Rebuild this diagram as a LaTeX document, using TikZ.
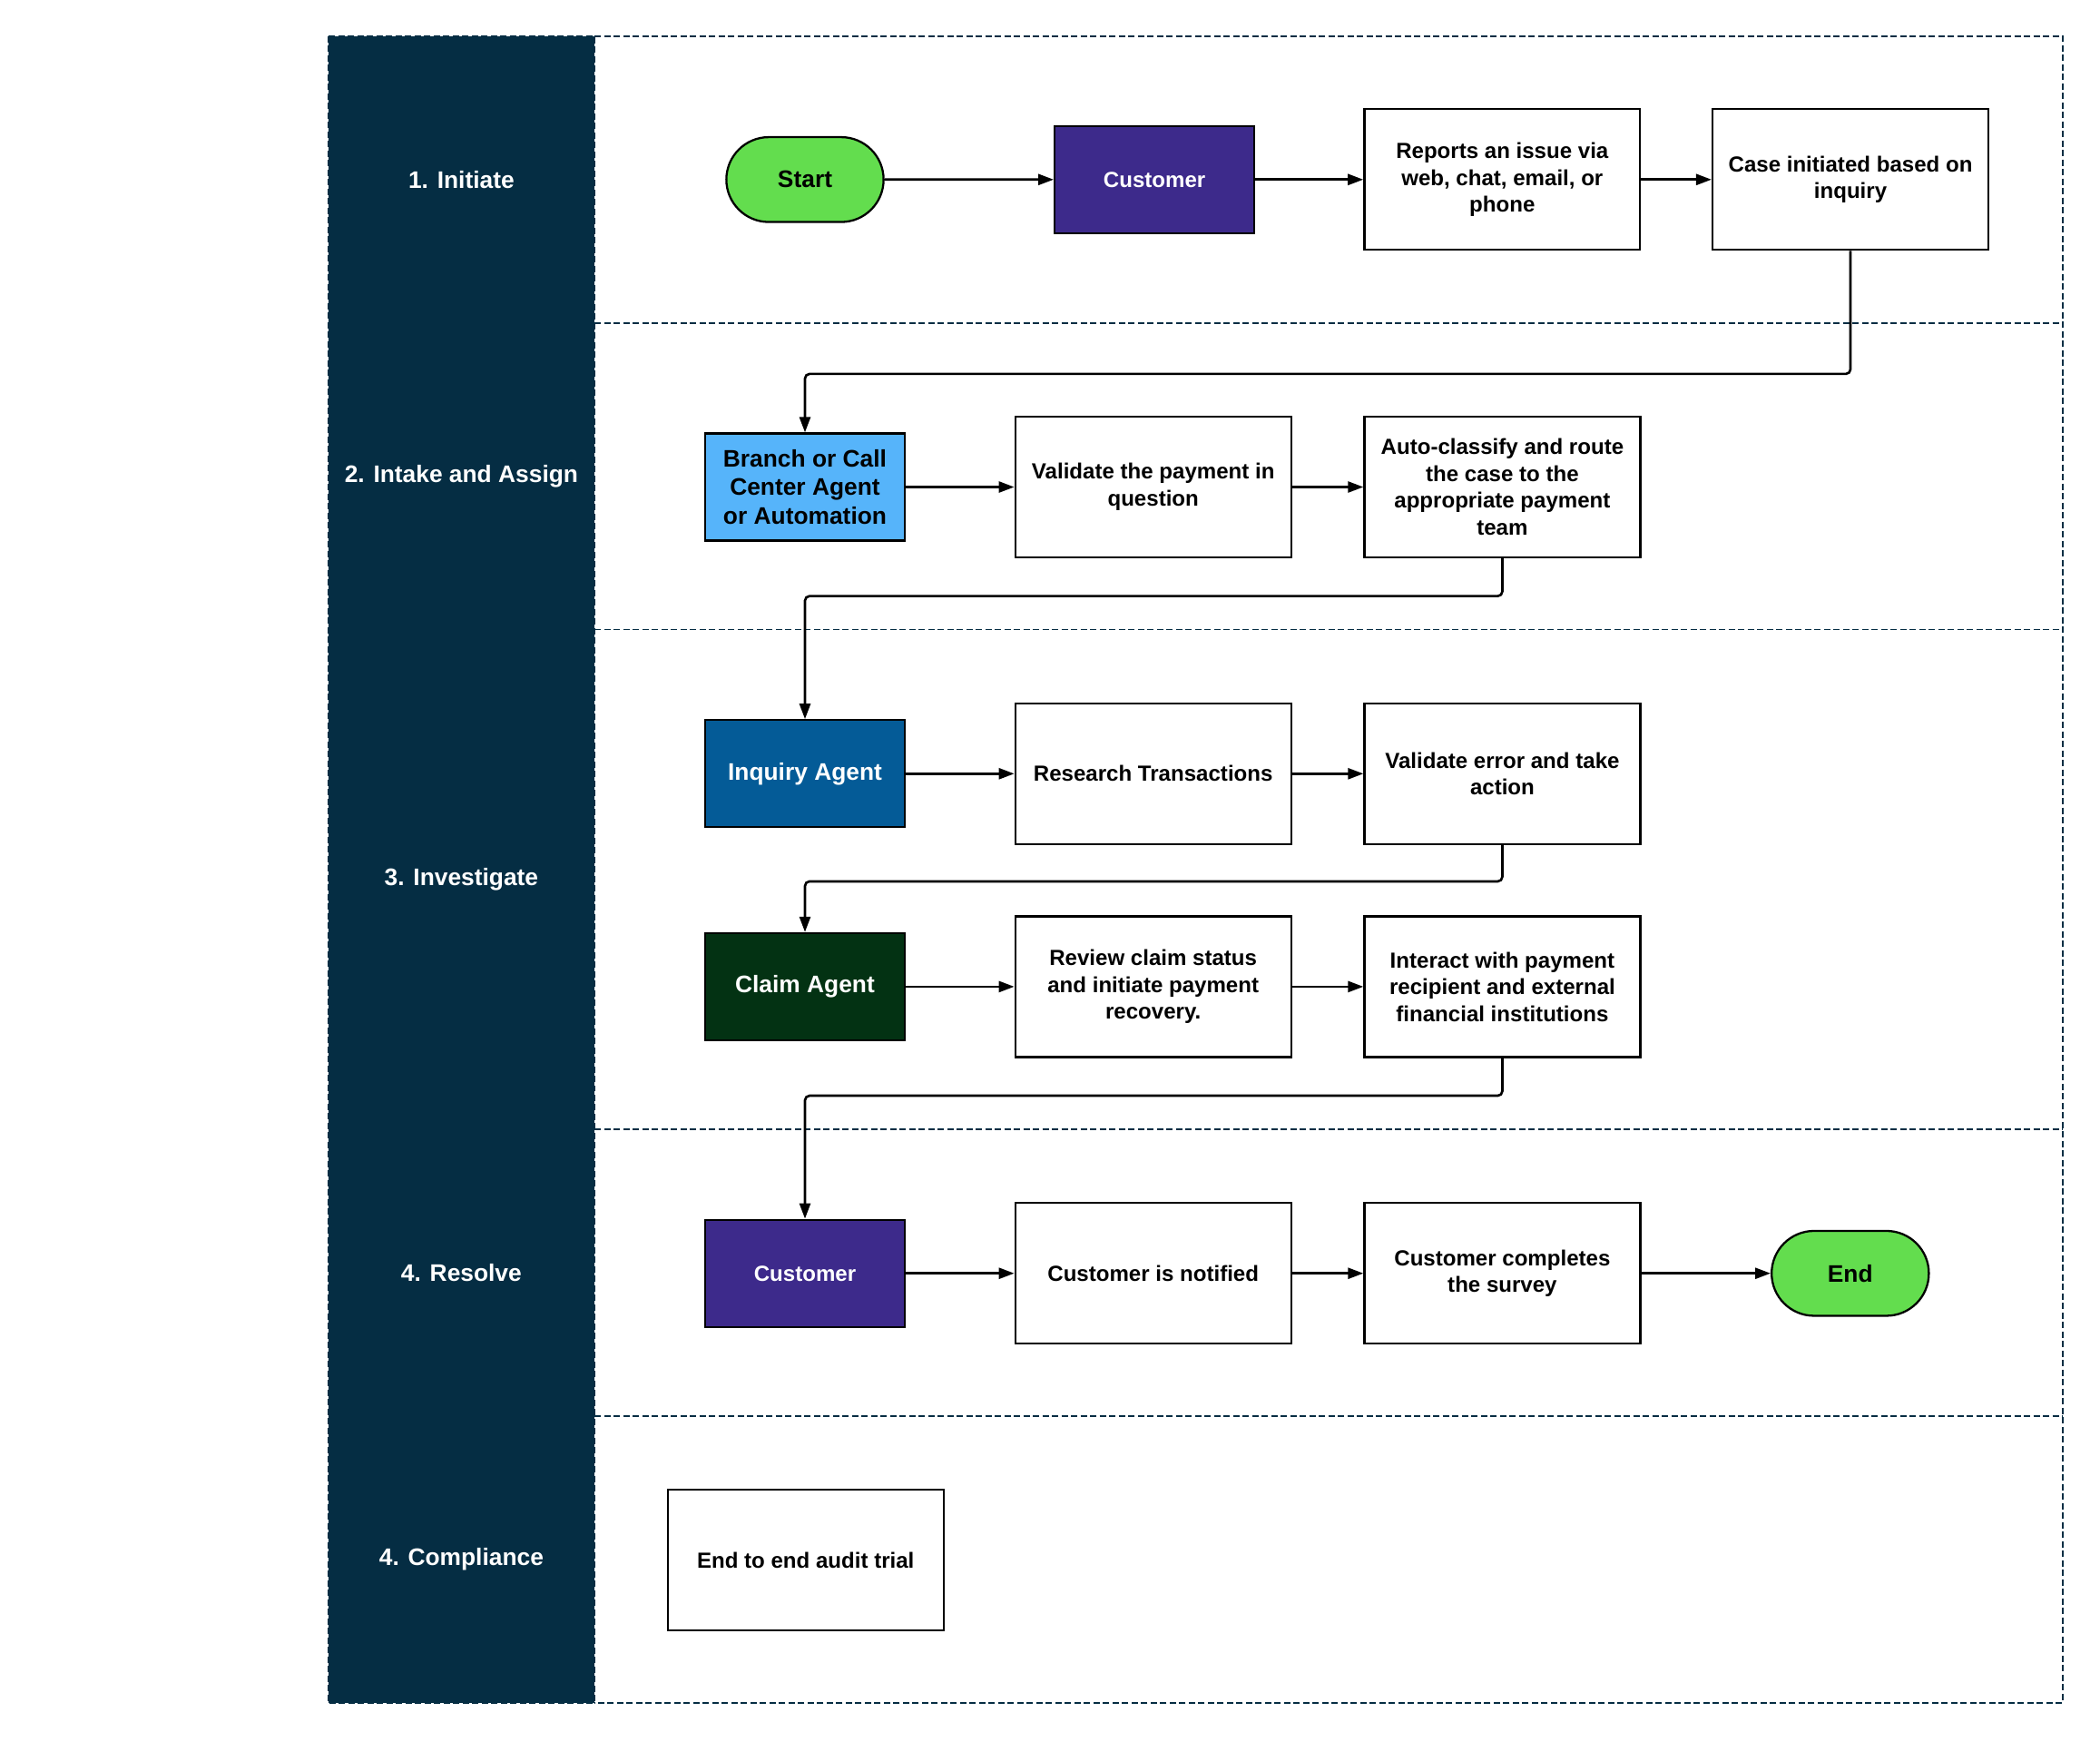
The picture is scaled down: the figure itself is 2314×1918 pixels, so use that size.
\documentclass[tikz,border=0pt]{standalone}
\usepackage{fontspec}
\setmainfont{Liberation Sans}
\usetikzlibrary{arrows.meta,positioning,shapes.misc}
\definecolor{lanenavy}{HTML}{052D43}
\definecolor{termgreen}{HTML}{63DD4E}
\definecolor{custpurple}{HTML}{3D2A8B}
\definecolor{branchblue}{HTML}{56B4FA}
\definecolor{inquiryblue}{HTML}{045B97}
\definecolor{claimgreen}{HTML}{033213}

\begin{document}
\begin{tikzpicture}[x=0.02cm,y=-0.02cm,
 lane/.style={draw=lanenavy,dash pattern=on 0.14cm off 0.07cm,line width=0.9pt},
 lanelabel/.style={text=white,font=\fontsize{15}{18}\selectfont\bfseries,align=center},
 card/.style={draw=black,line width=1.3pt,fill=white,minimum width=6.08cm,minimum height=3.1cm,inner sep=2pt,align=center,font=\fontsize{13.7}{16.8}\selectfont\bfseries},
 actor/.style={draw=black,line width=1.3pt,minimum width=4.4cm,minimum height=2.36cm,inner sep=2pt,align=center,text=white,font=\fontsize{15}{18}\selectfont\bfseries},
 term/.style={rounded rectangle,draw=black,line width=1.3pt,fill=termgreen,minimum width=3.7cm,minimum height=1.87cm,font=\fontsize{15}{18}\selectfont\bfseries},
 flow/.style={-{Triangle[length=3.4mm,width=2.4mm]},draw=black,line width=1.5pt,rounded corners=1mm}
]
\useasboundingbox (0,0) rectangle (2314,1918);
% swimlane frame
\fill[lanenavy] (361.6,39.8) rectangle (655.3,1875.8);
\draw[lane] (361.6,39.8) rectangle (655.3,1875.8);
\draw[lane] (655.3,39.8) -- (2272.7,39.8) -- (2272.7,1875.8) -- (655.3,1875.8);
\foreach \y in {355.7,693.6,1244.1,1559.9}
  \draw[lane] (655.3,\y) -- (2272.7,\y);
\node[lanelabel] (lane1) at (508.4,197.8) {1. Initiate};
\node[lanelabel] (lane2) at (508.4,524.7) {2. Intake and Assign};
\node[lanelabel] (lane3) at (508.4,968.9) {3. Investigate};
\node[lanelabel] (lane4) at (508.4,1402) {4. Resolve};
\node[lanelabel] (lane5) at (508.4,1717.9) {4. Compliance};
% 1. initiate
\node[term] (start) at (887,197.8) {Start};
\node[actor,fill=custpurple,font=\fontsize{13.7}{16.8}\selectfont\bfseries] (cust) at (1272.1,197.8) {Customer};
\node[card,right=2.38cm of cust] (report) {Reports an issue via\\web, chat, email, or\\phone};
\node[card,right=1.55cm of report] (caseinit) {Case initiated based on\\inquiry};
% 2. intake and assign
\node[actor,fill=branchblue,text=black] (branch) at (887,536.5) {Branch or Call\\Center Agent\\or Automation};
\node[card,right=2.39cm of branch] (validpay) {Validate the payment in\\question};
\node[card,right=1.57cm of validpay] (autoroute) {Auto-classify and route\\the case to the\\appropriate payment\\team};
% 3. investigate
\node[actor,fill=inquiryblue] (inquiry) at (887,852.3) {Inquiry Agent};
\node[card,right=2.39cm of inquiry] (research) {Research Transactions};
\node[card,right=1.57cm of research] (validerr) {Validate error and take\\action};
\node[actor,fill=claimgreen] (claim) at (887,1086.9) {Claim Agent};
\node[card,right=2.39cm of claim] (review) {Review claim status\\and initiate payment\\recovery.};
\node[card,right=1.57cm of review] (interact) {Interact with payment\\recipient and external\\financial institutions};
% 4. resolve
\node[actor,fill=custpurple,font=\fontsize{13.7}{16.8}\selectfont\bfseries] (cust2) at (887,1402.7) {Customer};
\node[card,right=2.39cm of cust2] (notified) {Customer is notified};
\node[card,right=1.57cm of notified] (survey) {Customer completes\\the survey};
\node[term,right=2.85cm of survey] (finish) {End};
% 4. compliance
\node[card] (audit) at (887.7,1718.6) {End to end audit trial};
% connectors
\draw[flow] (start)--(cust);
\draw[flow] (cust)--(report);
\draw[flow] (report)--(caseinit);
\draw[flow] (caseinit.south)--++(0,-2.71cm) -| (branch.north);
\draw[flow] (branch)--(validpay);
\draw[flow] (validpay)--(autoroute);
\draw[flow] (autoroute.south)--++(0,-0.83cm) -| (inquiry.north);
\draw[flow] (inquiry)--(research);
\draw[flow] (research)--(validerr);
\draw[flow] (validerr.south)--++(0,-0.8cm) -| (claim.north);
\draw[flow] (claim)--(review);
\draw[flow] (review)--(interact);
\draw[flow] (interact.south)--++(0,-0.83cm) -| (cust2.north);
\draw[flow] (cust2)--(notified);
\draw[flow] (notified)--(survey);
\draw[flow] (survey)--(finish);
\end{tikzpicture}
\end{document}
